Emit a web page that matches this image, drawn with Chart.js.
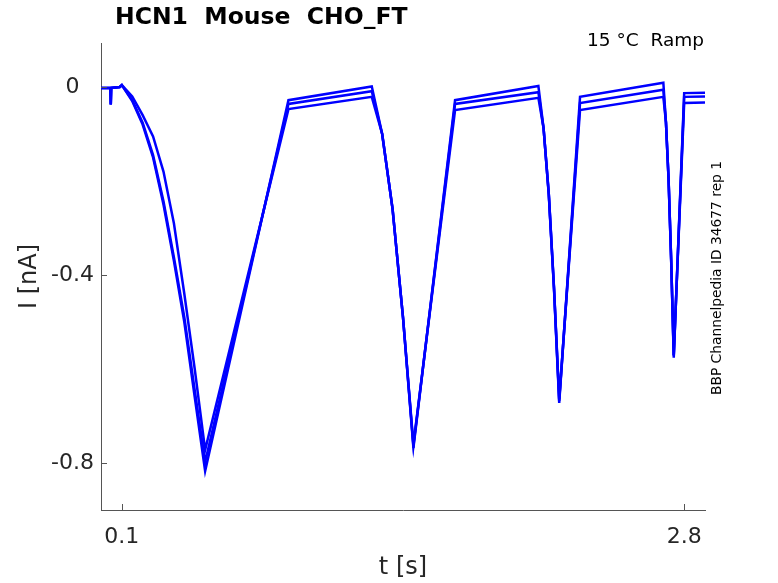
<!DOCTYPE html>
<html>
<head>
<meta charset="utf-8">
<script src="https://cdn.jsdelivr.net/npm/chart.js@4.4.1/dist/chart.umd.min.js"></script>
<style>
  body { margin: 0; background: #fff; }
  #wrap { width: 778px; height: 583px; position: relative; }
</style>
</head>
<body>
<div id="wrap"><canvas id="myChart"></canvas></div>
<script>
// time in s, shared by the three sweeps
const timeS = [0, 0.045, 0.047, 0.049, 0.09, 0.1, 0.15, 0.2, 0.25, 0.3, 0.35, 0.4, 0.45, 0.5,
  0.9, 1.3, 1.35, 1.4, 1.45, 1.5, 1.7, 2.1, 2.125, 2.15, 2.175, 2.2, 2.3, 2.7, 2.7125, 2.725, 2.7375, 2.75, 2.8, 2.9];

// current in nA
const trace1 = [-0.002, -0.002, -0.037, -0.002, 0.0, 0.004, -0.03, -0.08, -0.15, -0.25, -0.37, -0.5, -0.66, -0.817,
  -0.028, 0.001, -0.10, -0.26, -0.49, -0.768, -0.028, 0.002, -0.088, -0.23, -0.43, -0.672,
  -0.021, 0.009, -0.075, -0.196, -0.368, -0.576, -0.013, -0.012];
const trace2 = [-0.002, -0.002, -0.037, -0.002, 0.0, 0.004, -0.028, -0.076, -0.145, -0.243, -0.362, -0.49, -0.645, -0.798,
  -0.036, -0.009, -0.10, -0.26, -0.49, -0.764, -0.036, -0.011, -0.088, -0.228, -0.428, -0.668,
  -0.034, -0.006, -0.075, -0.195, -0.367, -0.572, -0.021, -0.020];
const trace3 = [-0.002, -0.002, -0.037, -0.002, 0.0, 0.004, -0.02, -0.06, -0.105, -0.18, -0.29, -0.44, -0.6, -0.772,
  -0.047, -0.021, -0.10, -0.26, -0.49, -0.760, -0.049, -0.023, -0.088, -0.227, -0.426, -0.664,
  -0.049, -0.021, -0.075, -0.194, -0.366, -0.570, -0.034, -0.033];

const xTicks = [0.1, 2.8];
const xTickLabels = ['0.1', '2.8'];
const yTicks = [0, -0.4, -0.8];
const yTickLabels = ['0', '-0.4', '-0.8'];

const titleText = 'HCN1  Mouse  CHO_FT';
const tempText = '15 °C  Ramp';
const sideText = 'BBP Channelpedia ID 34677 rep 1';

const font = 'DejaVu Sans';
const axisColor = '#262626';

const toPoints = (ys) => timeS.map((t, i) => ({x: t, y: ys[i]}));

// tick marks point into the plot, plus the free texts
const extras = {
    id: 'extras',
    afterDraw(chart) {
        const {ctx, chartArea, scales: {x, y}} = chart;
        ctx.save();
        ctx.strokeStyle = '#555';
        ctx.lineWidth = 1;
        ctx.beginPath();
        xTicks.forEach(v => {
            const px = Math.round(x.getPixelForValue(v)) + 0.5;
            ctx.moveTo(px, chartArea.bottom);
            ctx.lineTo(px, chartArea.bottom - 6);
        });
        yTicks.forEach(v => {
            const py = Math.round(y.getPixelForValue(v)) + 0.5;
            ctx.moveTo(chartArea.left, py);
            ctx.lineTo(chartArea.left + 6, py);
        });
        ctx.stroke();

        ctx.fillStyle = '#000';
        ctx.font = `bold 23.5px "${font}"`;
        ctx.textAlign = 'left';
        ctx.textBaseline = 'middle';
        ctx.fillText(titleText, 115, 18);

        ctx.font = `18.5px "${font}"`;
        ctx.textAlign = 'right';
        ctx.fillText(tempText, 704, 41);

        ctx.translate(717, 278);
        ctx.rotate(-Math.PI / 2);
        ctx.font = `13.8px "${font}"`;
        ctx.textAlign = 'center';
        ctx.fillText(sideText, 0, 0);
        ctx.restore();
    }
};

const ctx = document.getElementById('myChart');

const chart = new Chart(ctx, {
    type: 'line',
    data: {
        datasets: [trace1, trace2, trace3].map(tr => ({
            data: toPoints(tr),
            borderColor: '#0000ff',
            borderWidth: 2.5,
            pointRadius: 0,
            tension: 0,
            fill: false
        }))
    },
    options: {
        responsive: true,
        maintainAspectRatio: false,
        animation: false,
        devicePixelRatio: 1,
        layout: { padding: { top: 43, right: 73, left: 0, bottom: 0 } },
        plugins: { legend: { display: false }, tooltip: { enabled: false } },
        scales: {
            x: {
                type: 'linear',
                min: 0,
                max: 2.9,
                afterFit: (scale) => { scale.height = 73; },
                afterBuildTicks: (scale) => { scale.ticks = xTicks.map(v => ({value: v})); },
                grid: { display: false, drawTicks: false },
                border: { display: true, color: '#555', width: 1 },
                ticks: {
                    autoSkip: false,
                    maxRotation: 0,
                    padding: 14,
                    color: axisColor,
                    font: { family: font, size: 22 },
                    callback: (v) => xTickLabels[xTicks.indexOf(v)]
                },
                title: {
                    display: true,
                    text: 't [s]',
                    color: axisColor,
                    font: { family: font, size: 24 },
                    padding: { top: 0, bottom: 1 }
                }
            },
            y: {
                type: 'linear',
                min: -0.9,
                max: 0.0936,
                afterFit: (scale) => { scale.width = 101; },
                afterBuildTicks: (scale) => { scale.ticks = yTicks.map(v => ({value: v})); },
                grid: { display: false, drawTicks: false },
                border: { display: true, color: '#555', width: 1 },
                ticks: {
                    autoSkip: false,
                    crossAlign: 'center',
                    padding: 7,
                    color: axisColor,
                    font: { family: font, size: 22 },
                    callback: (v) => yTickLabels[yTicks.indexOf(v)]
                },
                title: {
                    display: true,
                    text: 'I [nA]',
                    color: axisColor,
                    font: { family: font, size: 24 },
                    padding: { top: 15, bottom: 0 }
                }
            }
        }
    },
    plugins: [extras]
});
</script>
</body>
</html>
